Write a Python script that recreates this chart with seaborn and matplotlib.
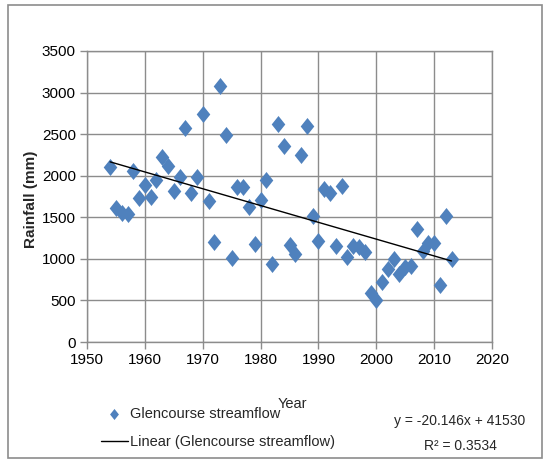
import numpy as np
import pandas as pd
import matplotlib.pyplot as plt
import matplotlib.patches as mpatches
from matplotlib.path import Path
import seaborn as sns

_ = sns.set_style('white')
plt.rcParams['font.family'] = ['Liberation Sans', 'DejaVu Sans']

years = list(range(1954, 2014))
rainfall = [2100, 1610, 1550, 1540, 2060, 1730, 1890, 1745, 1950, 2220,
            2120, 1815, 1985, 2575, 1790, 1985, 2740, 1700, 1200, 3080,
            2490, 1010, 1865, 1870, 1625, 1180, 1710, 1950, 940, 2620,
            2360, 1170, 1060, 2250, 2600, 1520, 1210, 1840, 1790, 1150,
            1880, 1020, 1160, 1140, 1085, 590, 500, 720, 880, 1000,
            820, 900, 910, 1360, 1100, 1185, 1190, 680, 1520, 1000]
series_name = 'Glencourse streamflow'
equation = 'y = -20.146x + 41530'
r_squared = 'R² = 0.3534'

df = pd.DataFrame({'year': years, 'rainfall': rainfall})

blue = '#4F81BD'
grey = '#8c8c8c'
diamond = Path([(0, 1), (0.8, 0), (0, -1), (-0.8, 0), (0, 1)],
               [Path.MOVETO, Path.LINETO, Path.LINETO, Path.LINETO, Path.CLOSEPOLY])

fig = plt.figure(figsize=(5.47, 4.62), dpi=100)
ax = fig.add_axes([87 / 547, 1 - 342 / 462, 405 / 547, 291 / 462])

sns.scatterplot(x='year', y='rainfall', data=df, ax=ax, marker=diamond, s=150,
                color=blue, edgecolor=blue, linewidth=0, label=series_name, zorder=3)
sns.regplot(x='year', y='rainfall', data=df, ax=ax, scatter=False, ci=None,
            line_kws={'color': 'black', 'lw': 1.0, 'zorder': 4},
            label='Linear (' + series_name + ')')

ax.set_xlim(1950, 2020)
ax.set_ylim(0, 3500)
ax.set_xticks(range(1950, 2021, 10))
ax.set_yticks(range(0, 3501, 500))
ax.grid(True, color=grey, lw=1.0)
ax.set_axisbelow(True)
for sp in ax.spines.values():
    sp.set_color(grey)
    sp.set_linewidth(1.0)
ax.tick_params(axis='both', direction='out', length=5, width=1, color=grey,
               labelsize=11, labelcolor='black', pad=3)
ax.tick_params(left=True, bottom=True)

ax.set_xlabel('Year', fontsize=10.5)
ax.xaxis.set_label_coords(0.506, -0.19)
ax.set_ylabel('Rainfall (mm)', fontsize=11, fontweight='bold')
ax.yaxis.set_label_coords(-0.12, 0.49)

if ax.get_legend():
    ax.get_legend().remove()
handles, labels = ax.get_legend_handles_labels()
fig.legend(handles, labels, loc='upper left', bbox_to_anchor=(94 / 547, 1 - 400 / 462),
           frameon=False, fontsize=10.5, borderpad=0, handlelength=1.8,
           handletextpad=0.2, labelspacing=0.95, markerscale=0.65)

fig.text(460 / 547, 1 - 421 / 462, equation, ha='center', va='center', fontsize=10)
fig.text(460 / 547, 1 - 446 / 462, r_squared, ha='center', va='center', fontsize=10)

frame = mpatches.Rectangle((8 / 547, 4 / 462), 534 / 547, 453 / 462, transform=fig.transFigure,
                           fill=False, edgecolor=grey, lw=1.2)
fig.patches.append(frame)

fig.savefig('out.png', dpi=100)
